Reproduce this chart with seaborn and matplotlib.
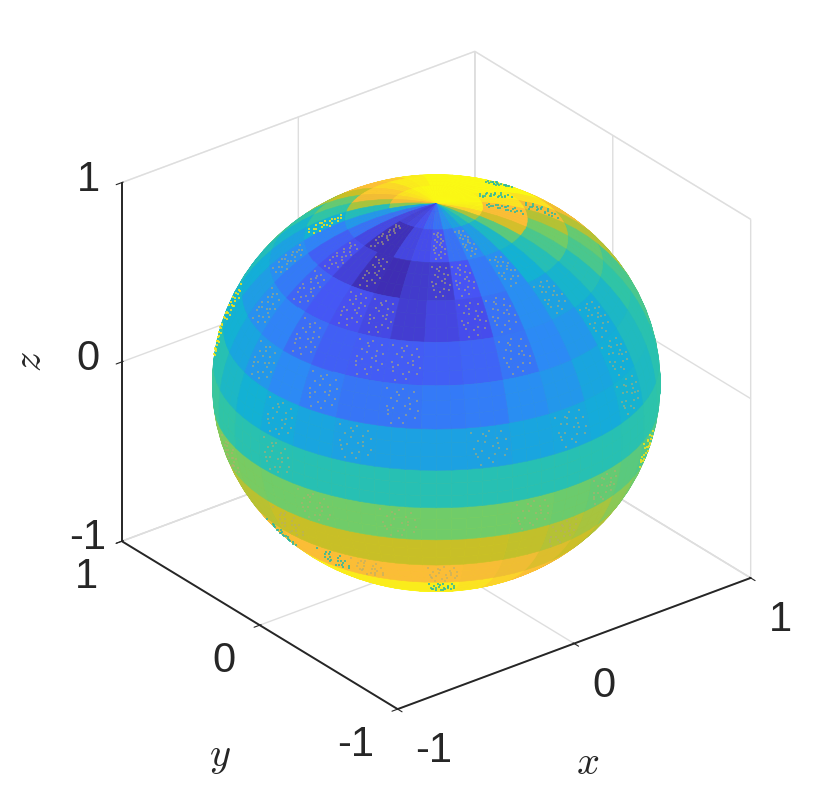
import numpy as np
import matplotlib
matplotlib.use("Agg")
import matplotlib.pyplot as plt
import seaborn as sns

# sphere grid, degrees (edges of the cells)
lat_edges = [90, 78, 66, 54, 42, 30, 18, 6, -6, -18, -30, -42, -54, -66, -78, -90]
lon_edges = [-216, -204, -192, -180, -168, -156, -144, -132, -120, -108, -96, -84, -72, -60, -48, -36,
             -24, -12, 0, 12, 24, 36, 48, 60, 72, 84, 96, 108, 120, 132, 144]

# colour value of each cell (row = latitude band, column = longitude band)
cell_values = [
    [.35, .20, .10, .08, .09, .12, .17, .20, .28, .33, .42, .52, .70, .92, .98, .99, 1, 1, 1, 1, 1, 1, 1, 1, .99, .97, .95, .92, .85, .65],
    [.30, .20, .10, .03, .03, .09, .11, .13, .20, .25, .32, .42, .58, .78, .87, .88, .95, .98, 1, 1, 1, 1, 1, .98, .97, .93, .90, .85, .70, .45],
    [.24, .16, .12, .08, .03, .02, .06, .07, .13, .22, .27, .38, .46, .55, .62, .72, .85, .95, 1, 1, 1, 1, 1, .97, .90, .88, .75, .60, .50, .38],
    [.27, .22, .17, .14, .12, .10, .07, .09, .11, .20, .27, .33, .40, .46, .55, .60, .72, .85, .92, .95, .95, .95, .95, .92, .88, .80, .70, .50, .40, .33],
    [.32, .28, .24, .19, .16, .15, .15, .16, .17, .21, .26, .30, .36, .42, .50, .55, .72, .80, .85, .88, .88, .88, .88, .85, .80, .70, .60, .55, .45, .37],
    [.38, .34, .30, .26, .23, .21, .21, .22, .23, .27, .30, .34, .37, .44, .48, .55, .62, .70, .75, .80, .80, .80, .80, .75, .70, .60, .55, .50, .45, .40],
    [.47, .42, .38, .36, .34, .33, .33, .33, .33, .34, .35, .36, .39, .43, .48, .52, .55, .60, .65, .70, .70, .70, .70, .65, .60, .55, .52, .50, .49, .48],
    [.52, .50, .48, .47, .47, .47, .47, .47, .47, .47, .47, .47, .48, .49, .50, .52, .52, .55, .55, .55, .55, .55, .55, .55, .55, .52, .52, .52, .52, .52],
    [.65, .64, .63, .62, .62, .62, .62, .62, .62, .62, .61, .60, .58, .56, .55, .55, .55, .55, .55, .55, .55, .55, .55, .55, .55, .55, .55, .60, .62, .64],
    [.72, .72, .73, .75, .75, .75, .75, .75, .75, .74, .72, .70, .66, .62, .60, .60, .60, .60, .60, .60, .60, .60, .60, .60, .60, .60, .60, .65, .70, .72],
    [.82, .84, .85, .87, .87, .87, .87, .87, .86, .84, .80, .76, .72, .68, .65, .65, .65, .65, .65, .65, .65, .65, .65, .65, .65, .65, .65, .70, .75, .80],
    [.95, .96, .97, .97, .97, .97, .97, .97, .95, .92, .88, .85, .80, .78, .75, .75, .75, .75, .75, .75, .75, .75, .75, .75, .75, .75, .75, .80, .85, .90],
    [.99, .99, .99, .99, .99, .99, .99, .98, .98, .95, .92, .90, .88, .85, .85, .85, .85, .85, .85, .85, .85, .85, .85, .85, .85, .85, .85, .88, .92, .95],
    [1] * 30,
    [1] * 30,
]

# cells that show the speckled pattern: (row, column)
tan_cells = [(1, 3), (2, 4), (2, 2), (3, 2), (4, 1), (3, 4), (3, 5), (4, 3), (5, 2), (4, 5), (4, 6), (3, 0),
             (1, 7), (2, 7), (2, 8), (1, 9), (2, 10), (3, 11), (3, 9), (4, 9), (3, 8), (4, 12), (5, 12),
             (6, 3), (5, 4), (7, 3), (6, 5), (5, 6), (8, 4), (8, 6), (9, 3), (8, 1), (10, 5), (6, 8), (6, 10),
             (6, 12), (8, 11), (8, 9), (9, 10), (10, 7)]
teal_cells = [(1, 15), (2, 16), (1, 17), (2, 19), (10, 4), (10, 2), (11, 7)]
yellow_cells = [(2, 29), (5, 29), (6, 29), (8, 13)]
# where the specks fall inside a cell (fraction of its width, fraction of its height)
speck_u = [.12, .38, .52, .79, .26, .41, .68, .88, .17, .33, .59, .72, .23, .48, .63, .84, .31, .57, .44, .71, .20, .90]
speck_v = [.13, .18, .11, .16, .33, .38, .31, .36, .52, .57, .50, .55, .72, .77, .70, .75, .91, .88, .24, .44, .63, .60]

tick_values = [-1, 0, 1]
tick_labels = ['-1', '0', '1']

# parula-like colours seen on the sphere
parula_colors = [(.24, .15, .66), (.28, .32, .96), (.18, .53, .97), (.07, .69, .84), (.18, .77, .66),
                 (.45, .80, .40), (.78, .75, .15), (.99, .74, .22), (.98, .98, .08)]

sns.set_style("white")
plt.rcParams['font.family'] = ['Liberation Sans', 'DejaVu Sans']
plt.rcParams['mathtext.fontset'] = 'cm'

cmap = sns.blend_palette(parula_colors, as_cmap=True)

z_center = -0.016


def sphere_xyz(lat_deg, lon_deg):
    la, lo = np.radians(lat_deg), np.radians(lon_deg)
    return np.cos(la) * np.cos(lo), np.cos(la) * np.sin(lo), np.sin(la) + z_center


def speck_points(cells):
    lats, lons = [], []
    for row, col in cells:
        for u, v in zip(speck_u, speck_v):
            lons.append(lon_edges[col] + u * (lon_edges[col + 1] - lon_edges[col]))
            lats.append(lat_edges[row] + v * (lat_edges[row + 1] - lat_edges[row]))
    return sphere_xyz(np.array(lats), np.array(lons))


# each cell is split in smaller facets so the outline of the sphere stays round
n_sub = 3
lat_fine = np.linspace(lat_edges[0], lat_edges[-1], (len(lat_edges) - 1) * n_sub + 1)
lon_fine = np.linspace(lon_edges[0], lon_edges[-1], (len(lon_edges) - 1) * n_sub + 1)
lon_grid, lat_grid = np.meshgrid(lon_fine, lat_fine)
x, y, z = sphere_xyz(lat_grid, lon_grid)
values_fine = np.repeat(np.repeat(np.array(cell_values), n_sub, axis=0), n_sub, axis=1)

fig = plt.figure(figsize=(8.30, 7.95), dpi=100)
ax = fig.add_axes([28 / 830, 6.5 / 795, 795 / 830, 1], projection='3d', proj_type='ortho', computed_zorder=False)
ax.view_init(elev=28.4, azim=-128)
ax.set_xlim(-1, 1, view_margin=0)
ax.set_ylim(-1, 1, view_margin=0)
ax.set_zlim(-1, 1, view_margin=0)
ax.set_box_aspect((1, 1, 0.91), zoom=0.92)

ax.plot_surface(x, y, z, facecolors=cmap(values_fine), rstride=1, cstride=1,
                shade=False, linewidth=0.4, antialiased=True, zorder=1)

for cells, color, alpha in [(tan_cells, '#b5ad6e', 0.55), (teal_cells, '#2cb8a0', 0.8), (yellow_cells, '#f2e21c', 0.85)]:
    sx, sy, sz = speck_points(cells)
    ax.scatter(sx, sy, sz, s=1.8, c=color, marker='s', linewidths=0, alpha=alpha, depthshade=False, zorder=2)

for axis in [ax.xaxis, ax.yaxis, ax.zaxis]:
    axis.set_ticks(tick_values)
    axis.set_ticklabels(tick_labels, fontsize=30, color='#262626')
    axis.pane.set_facecolor('white')
    axis.pane.set_edgecolor('#d9d9d9')
    axis.line.set_color('#262626')
    axis.line.set_linewidth(1.4)
    axis._axinfo['grid'].update(color='#dedede', linewidth=1.0)
    axis._axinfo['tick'].update(inward_factor=0.2, outward_factor=0.05)

ax.tick_params(axis='x', pad=8)
ax.tick_params(axis='y', pad=8)
ax.tick_params(axis='z', pad=8)

# axis3d puts tick labels in view units, about 4297 pixels to one unit here
px_per_unit = 795 / 0.185


def nudge_labels(axis, dx_px, dy_px, ha=None, va=None):
    for tick in axis.get_major_ticks():
        label = tick.label1
        if ha:
            label.set_ha(ha)
        if va:
            label.set_va(va)
        place = label.set_position
        label.set_position = lambda xy, place=place: place((xy[0] + dx_px / px_per_unit, xy[1] + dy_px / px_per_unit))


nudge_labels(ax.xaxis, 3, 6, ha='left')
nudge_labels(ax.yaxis, -5, 10, ha='right')
nudge_labels(ax.zaxis, 0, -19, va='bottom')

# axis names
fig.text(588 / 830, 1 - 763 / 795, '$x$', fontsize=29, ha='center', va='center', color='#262626')
fig.text(220 / 830, 1 - 757 / 795, '$y$', fontsize=29, ha='center', va='center', color='#262626')
fig.text(30 / 830, 1 - 362 / 795, '$z$', fontsize=29, ha='center', va='center', rotation=90, color='#262626')

fig.savefig('out.png', dpi=100)
